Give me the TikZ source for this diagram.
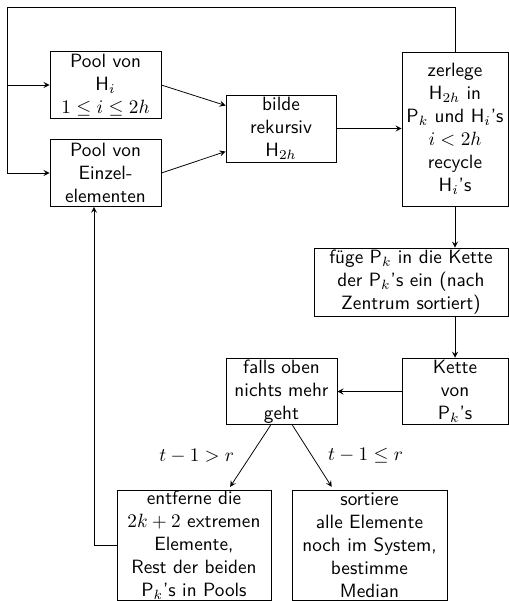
\documentclass[tikz,border=0pt]{standalone}
\usepackage{tikz}
\usetikzlibrary{shapes.geometric, arrows, calc, positioning}
\tikzstyle{box} = [rectangle, draw=black, text centered, align=center,
	inner sep=0pt, font=\sffamily, minimum width=2.03cm, minimum height=1.22cm]
\tikzstyle{arrow} = [->, >=stealth]

\begin{document}
\begin{tikzpicture}
	\useasboundingbox (0,0) rectangle (9.302,10.984);

	% set up nodes
	\node (poolH) [box] at (1.928,9.43) {Pool von\\H$_i$\\$1\le i\le 2h$};
	\node (poolE) [box] at (1.928,7.822) {Pool von\\Einzel-\\elementen};
	\node (bilde) [box, minimum width=2.01cm] at (5.136,8.635) {bilde\\rekursiv\\H$_{2h}$};
	\node (zerlege) [box, minimum width=1.937cm, minimum height=2.815cm] at (8.316,8.626)
		{zerlege\\H$_{2h}$ in\\P$_k$ und H$_i$'s\\$i<2h$\\recycle\\H$_i$'s};
	\node (fuege) [box, minimum width=3.546cm, minimum height=1.243cm] at (7.511,5.83)
		{füge P$_k$ in die Kette\\der P$_k$'s ein (nach\\Zentrum sortiert)};
	\node (kette) [box, minimum width=1.937cm] at (8.316,3.829) {Kette\\von\\P$_k$'s};
	\node (falls) [box] at (5.145,3.829) {falls oben\\nichts mehr\\geht};
	\node (entferne) [box, minimum width=2.815cm, minimum height=2.01cm] at (3.545,1.023)
		{entferne die\\$2k+2$ extremen\\Elemente,\\Rest der beiden\\P$_k$'s in Pools};
	\node (sortiere) [box, minimum width=2.833cm, minimum height=2.01cm] at (6.753,1.023)
		{sortiere\\alle Elemente\\noch im System,\\bestimme\\Median};
	\coordinate (loop) at (0.128,10.856);

	% set up connections
	\draw [arrow] (zerlege.north) |- (loop) |- (poolE.west);
	\draw [arrow] (loop |- poolH.west) -- (poolH.west);
	\draw [arrow] (poolH.east) -- ([yshift=4.2mm]bilde.west);
	\draw [arrow] (poolE.east) -- ([yshift=-4.2mm]bilde.west);
	\draw [arrow] (bilde.east) -- (bilde.east -| zerlege.west);
	\draw [arrow] (zerlege.south) -- (zerlege.south |- fuege.north);
	\draw [arrow] (kette.north |- fuege.south) -- (kette.north);
	\draw [arrow] (kette.west) -- (falls.east);
	\draw [arrow] ([xshift=-2mm]falls.south) -- ([xshift=6.6mm,yshift=0.5mm]entferne.north)
		node[midway, left=1.7mm] {$t-1>r$};
	\draw [arrow] ([xshift=2mm]falls.south) -- ([xshift=-6.9mm,yshift=0.5mm]sortiere.north)
		node[midway, right=1.7mm] {$t-1\le r$};
	\draw [arrow] (entferne.west) -| ([xshift=-2.1mm]poolE.south);

\end{tikzpicture}
\end{document}
